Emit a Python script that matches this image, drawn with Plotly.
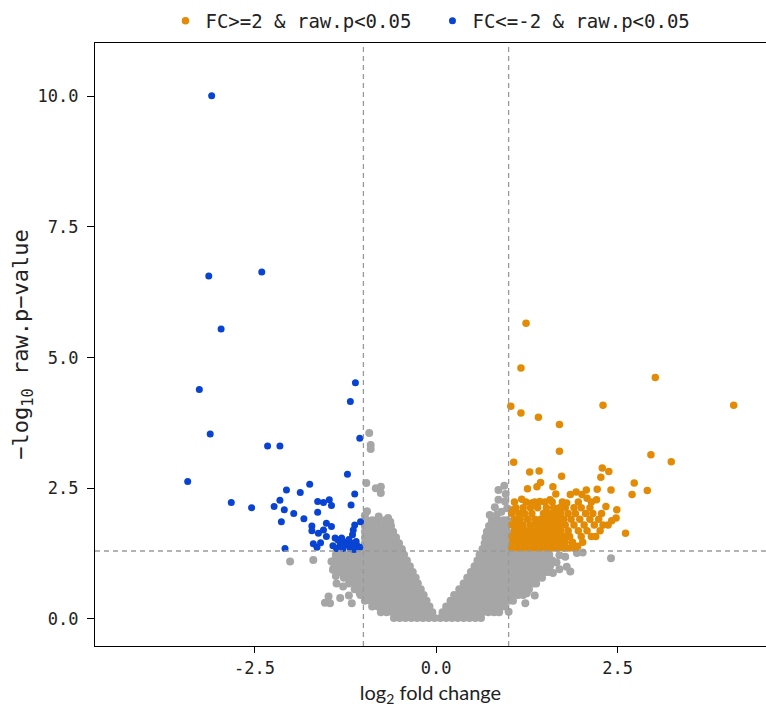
import plotly.graph_objects as go

# ---------------- data ----------------
# non-significant genes (grey cloud), stored row by row: one y value per row, list of x per row
gray_row_y = [0.02, 0.13, 0.24, 0.35, 0.46, 0.57, 0.68, 0.79, 0.90, 1.01, 1.12, 1.23,
              1.34, 1.45, 1.56, 1.67, 1.78, 1.89]
gray_row_x = [
    [-0.58, -0.50, -0.42, -0.34, -0.26, -0.18, -0.10, -0.02, 0.06, 0.14, 0.22, 0.30, 0.38, 0.46, 0.54, 0.62],
    [-0.76, -0.68, -0.60, -0.52, -0.44, -0.36, -0.28, -0.20, -0.12, -0.05, 0.09, 0.16, 0.24, 0.32, 0.40, 0.48,
     0.56, 0.64, 0.72, 0.80, 0.87],
    [-0.88, -0.80, -0.72, -0.64, -0.56, -0.48, -0.40, -0.32, -0.24, -0.16, -0.09, 0.14, 0.22, 0.30, 0.38, 0.46,
     0.54, 0.62, 0.70, 0.78, 0.86, 0.94],
    [-0.98, -0.90, -0.82, -0.74, -0.66, -0.58, -0.50, -0.42, -0.34, -0.26, -0.18, -0.13, 0.20, 0.28, 0.36, 0.44,
     0.52, 0.60, 0.68, 0.76, 0.84, 0.92, 1.00, 1.06],
    [-1.04, -0.96, -0.88, -0.80, -0.72, -0.64, -0.56, -0.48, -0.40, -0.32, -0.24, -0.17, 0.25, 0.33, 0.41, 0.49,
     0.57, 0.65, 0.73, 0.81, 0.89, 0.97, 1.05, 1.13, 1.20],
    [-1.12, -1.04, -0.96, -0.88, -0.80, -0.72, -0.64, -0.56, -0.48, -0.40, -0.32, -0.25, -0.21, 0.32, 0.40, 0.48,
     0.56, 0.64, 0.72, 0.80, 0.88, 0.96, 1.04, 1.12, 1.20, 1.28],
    [-1.20, -1.12, -1.04, -0.96, -0.88, -0.80, -0.72, -0.64, -0.56, -0.48, -0.40, -0.32, -0.25, 0.38, 0.46, 0.54,
     0.62, 0.70, 0.78, 0.86, 0.94, 1.02, 1.10, 1.18, 1.26, 1.34, 1.38],
    [-1.27, -1.19, -1.11, -1.03, -0.95, -0.87, -0.79, -0.71, -0.63, -0.55, -0.47, -0.39, -0.31, -0.28, 0.43, 0.51,
     0.59, 0.67, 0.75, 0.83, 0.91, 0.99, 1.07, 1.15, 1.23, 1.31, 1.39, 1.46],
    [-1.32, -1.24, -1.16, -1.08, -1.00, -0.92, -0.84, -0.76, -0.68, -0.60, -0.52, -0.44, -0.36, -0.32, 0.48, 0.56,
     0.64, 0.72, 0.80, 0.88, 0.96, 1.04, 1.12, 1.20, 1.28, 1.36, 1.44, 1.52, 1.56],
    [-1.38, -1.30, -1.22, -1.14, -1.06, -0.98, -0.90, -0.82, -0.74, -0.66, -0.58, -0.50, -0.42, -0.36, 0.53, 0.61,
     0.69, 0.77, 0.85, 0.93, 1.01, 1.09, 1.17, 1.25, 1.33, 1.41, 1.49, 1.57],
    [-1.40, -1.32, -1.24, -1.16, -1.08, -1.00, -0.92, -0.84, -0.76, -0.68, -0.60, -0.52, -0.44, -0.40, 0.57, 0.65,
     0.73, 0.81, 0.89, 0.97, 1.05, 1.13, 1.21, 1.29, 1.37, 1.45, 1.53, 1.60],
    [-1.38, -1.30, -1.22, -1.14, -1.06, -0.98, -0.90, -0.82, -0.74, -0.66, -0.58, -0.50, -0.44, 0.60, 0.68, 0.76,
     0.84, 0.92, 1.00, 1.08, 1.16, 1.24, 1.32, 1.40, 1.48, 1.56],
    [-0.98, -0.90, -0.82, -0.74, -0.66, -0.58, -0.50, -0.47, 0.64, 0.72, 0.80, 0.88, 0.96],
    [-0.98, -0.90, -0.82, -0.74, -0.66, -0.58, -0.51, 0.67, 0.75, 0.83, 0.91, 0.98],
    [-0.98, -0.90, -0.82, -0.74, -0.66, -0.59, -0.55, 0.68, 0.76, 0.84, 0.92, 0.98],
    [-0.98, -0.90, -0.82, -0.74, -0.66, -0.59, 0.70, 0.78, 0.86, 0.94, 0.98],
    [-0.98, -0.90, -0.82, -0.74, -0.66, -0.62, 0.73, 0.81, 0.89, 0.97],
    [-0.96, -0.88, -0.80, -0.70, 0.77, 0.85, 0.93, 0.98],
]
# scattered grey genes at the edges of the cloud
gray_extra_x = [-0.92, -0.90, -0.90, -0.96, -0.83, -0.76, -0.76, -0.95, -0.79, -0.66, -0.63, -0.98,
                -2.01, -1.69, -1.44, -1.41, -1.42, -1.37, -1.28, -1.48, -1.46, -1.32, -1.16, -1.05, -1.53,
                -1.20, -1.38,
                0.86, 0.94, 0.86, 0.96, 0.95, 0.74, 0.81, 0.90, 0.98, 0.84,
                1.78, 1.94, 2.02, 1.80, 1.61, 1.85, 1.25, 1.23, 1.00, 1.43, 2.41, 1.70, 1.66, 1.36, 1.70]
gray_extra_y = [3.56, 3.33, 3.25, 2.60, 2.50, 2.53, 2.41, 2.06, 1.96, 1.93, 1.86, 1.98,
                1.10, 1.13, 1.10, 0.97, 0.94, 0.68, 0.62, 0.43, 0.30, 0.40, 0.30, 0.49, 0.31,
                0.45, 0.82,
                2.47, 2.55, 2.28, 2.39, 2.25, 1.99, 2.14, 2.05, 2.12, 2.00,
                1.19, 1.26, 1.27, 1.00, 0.88, 0.91, 0.49, 0.30, 0.14, 0.81, 1.16, 0.95, 1.08, 0.45, 1.22]

# up-regulated genes (FC>=2 & raw.p<0.05): dense block row by row + outliers
orange_row_y = [1.36, 1.47, 1.58, 1.69, 1.80, 1.91, 2.02, 2.13, 2.24]
orange_row_x = [
    [1.04, 1.12, 1.20, 1.28, 1.36, 1.44, 1.52, 1.60, 1.68, 1.76, 1.84, 1.92],
    [1.06, 1.14, 1.22, 1.30, 1.38, 1.46, 1.54, 1.62, 1.70, 1.78, 1.88, 2.02],
    [1.04, 1.12, 1.20, 1.28, 1.36, 1.44, 1.52, 1.60, 1.68, 1.76, 1.84, 2.00, 2.20],
    [1.08, 1.16, 1.24, 1.32, 1.40, 1.48, 1.56, 1.64, 1.72, 1.82, 1.96, 2.08, 2.26],
    [1.04, 1.12, 1.20, 1.30, 1.38, 1.46, 1.54, 1.62, 1.70, 1.78, 1.90, 2.04, 2.18, 2.30],
    [1.08, 1.16, 1.26, 1.36, 1.44, 1.52, 1.60, 1.68, 1.76, 1.86, 1.98, 2.12, 2.24],
    [1.04, 1.14, 1.22, 1.32, 1.48, 1.56, 1.64, 1.72, 1.82, 1.92, 2.06, 2.16, 2.28],
    [1.10, 1.20, 1.30, 1.40, 1.52, 1.62, 1.70, 1.78, 1.90, 2.00, 2.12],
    [1.08, 1.24, 1.36, 1.50, 1.60, 1.74, 1.96, 2.14],
]
orange_x = [1.24, 1.17, 3.02, 1.03, 2.30, 4.10, 1.17, 1.41, 1.70, 1.70, 2.96, 3.24, 1.07, 1.29, 1.42,
            2.29, 2.38, 1.73, 2.27, 2.73, 2.91, 2.70, 2.61, 2.49, 2.48, 2.42, 2.37, 2.41, 2.22, 2.34,
            2.21, 2.07, 2.14, 1.95, 1.26, 1.39, 1.44, 1.61, 1.06, 1.18, 1.65, 1.85, 1.93, 2.01, 2.08,
            1.80, 1.57, 1.43, 1.32]
orange_y = [5.66, 4.80, 4.62, 4.07, 4.09, 4.09, 3.94, 3.86, 3.72, 3.21, 3.14, 3.01, 3.00, 2.81, 2.83,
            2.89, 2.82, 2.73, 2.71, 2.60, 2.46, 2.38, 1.64, 2.09, 1.93, 1.88, 1.80, 2.47, 2.48, 2.15,
            2.28, 2.47, 1.58, 1.39, 2.49, 2.53, 2.61, 2.53, 2.09, 2.29, 2.39, 2.38, 2.43, 2.38, 2.31,
            2.22, 2.28, 2.25, 2.22]

# down-regulated genes (FC<=-2 & raw.p<0.05)
blue_x = [-3.09, -3.13, -2.40, -2.96, -3.26, -3.11, -3.42, -1.11, -1.18, -1.05, -2.32, -2.15, -1.22,
          -1.74, -2.06, -1.87, -1.12, -2.82, -2.15, -1.63, -1.55, -1.47, -1.44, -1.17, -2.54, -2.23,
          -2.09, -1.96, -1.63, -1.82, -2.13, -1.04, -1.12, -1.71, -1.51, -1.44, -1.14, -1.71, -1.62,
          -1.55, -1.15, -1.39, -1.51, -1.69, -1.64, -1.59, -1.35, -1.28, -1.32, -1.23, -1.16, -1.10,
          -1.37, -1.28, -1.18, -1.07, -2.08, -1.30, -1.09, -1.05, -1.20, -1.13, -1.42]
blue_y = [10.01, 6.56, 6.64, 5.55, 4.39, 3.54, 2.63, 4.52, 4.16, 3.46, 3.31, 3.31, 2.77,
          2.58, 2.47, 2.42, 2.39, 2.23, 2.27, 2.25, 2.23, 2.28, 2.17, 2.18, 2.13, 2.15,
          2.09, 2.02, 2.04, 1.92, 1.86, 1.86, 1.80, 1.78, 1.83, 1.77, 1.70, 1.69, 1.64,
          1.70, 1.61, 1.55, 1.58, 1.44, 1.37, 1.46, 1.51, 1.48, 1.42, 1.42, 1.45, 1.48,
          1.35, 1.35, 1.35, 1.38, 1.35, 1.55, 1.40, 1.37, 1.52, 1.33, 1.40]

legend_names = ["FC>=2 & raw.p<0.05", "FC<=-2 & raw.p<0.05"]
x_tick_vals = [-2.5, 0.0, 2.5]
x_tick_text = ["-2.5", "0.0", "2.5"]
y_tick_vals = [0.0, 2.5, 5.0, 7.5, 10.0]
y_tick_text = ["0.0", "2.5", "5.0", "7.5", "10.0"]
fc_cut = 1.0
p_cut = 1.301

# ---------------- build ----------------
gx, gy = [], []
for yv, xs in zip(gray_row_y, gray_row_x):
    gx.extend(xs)
    gy.extend([yv] * len(xs))
gx += gray_extra_x
gy += gray_extra_y

ox, oy = [], []
for yv, xs in zip(orange_row_y, orange_row_x):
    ox.extend(xs)
    oy.extend([yv] * len(xs))
ox += orange_x
oy += orange_y

GRAY = "#A6A6A6"
ORANGE = "#E38B05"
BLUE = "#0843D3"
MONO = "DejaVu Sans Mono"

fig = go.Figure()
fig.add_trace(go.Scatter(x=gx, y=gy, mode="markers", showlegend=False, hoverinfo="skip",
                         marker=dict(color=GRAY, size=8, line=dict(width=0))))
fig.add_trace(go.Scatter(x=ox, y=oy, mode="markers", name=legend_names[0],
                         marker=dict(color=ORANGE, size=7.5, line=dict(width=0))))
fig.add_trace(go.Scatter(x=blue_x, y=blue_y, mode="markers", name=legend_names[1],
                         marker=dict(color=BLUE, size=7, line=dict(width=0))))

dash_line = dict(color="#9A9A9A", width=1.3, dash="5px,4px")
fig.add_hline(y=p_cut, line=dash_line)
fig.add_vline(x=-fc_cut, line=dash_line)
fig.add_vline(x=fc_cut, line=dash_line)

fig.update_layout(
    width=766, height=711,
    margin=dict(l=95, r=0, t=43, b=65, autoexpand=False),
    plot_bgcolor="white", paper_bgcolor="white",
    legend=dict(orientation="h", x=0.105, xanchor="left", y=1.0365, yanchor="middle",
                font=dict(family=MONO, size=19, color="#222222"),
                itemwidth=30, entrywidth=222, bgcolor="rgba(0,0,0,0)"),
    xaxis=dict(range=[-4.697, 4.545], tickvals=x_tick_vals, ticktext=x_tick_text,
               showline=True, linecolor="black", linewidth=1.3, mirror=True,
               ticks="outside", ticklen=6, tickwidth=1.3, tickcolor="black",
               showgrid=False, zeroline=False, automargin=False,
               tickfont=dict(family=MONO, size=17, color="#222222"),
               title=dict(text="log<sub>2</sub> fold change", standoff=9,
                          font=dict(family="Lato", size=20, color="#222222"))),
    yaxis=dict(range=[-0.517, 11.02], tickvals=y_tick_vals, ticktext=y_tick_text,
               showline=True, linecolor="black", linewidth=1.3, mirror=False,
               ticks="outside", ticklen=7, tickwidth=1.3, tickcolor="black",
               ticklabelstandoff=5,
               showgrid=False, zeroline=False, automargin=False,
               tickfont=dict(family=MONO, size=17, color="#222222"),
               title=dict(text="\u2212log<sub>10</sub> raw.p\u2212value", standoff=2,
                          font=dict(family=MONO, size=22, color="#222222"))),
)

fig.write_html("out.html", config={"displayModeBar": False},
               post_script="document.body.style.margin='0';document.body.style.overflow='hidden';")
